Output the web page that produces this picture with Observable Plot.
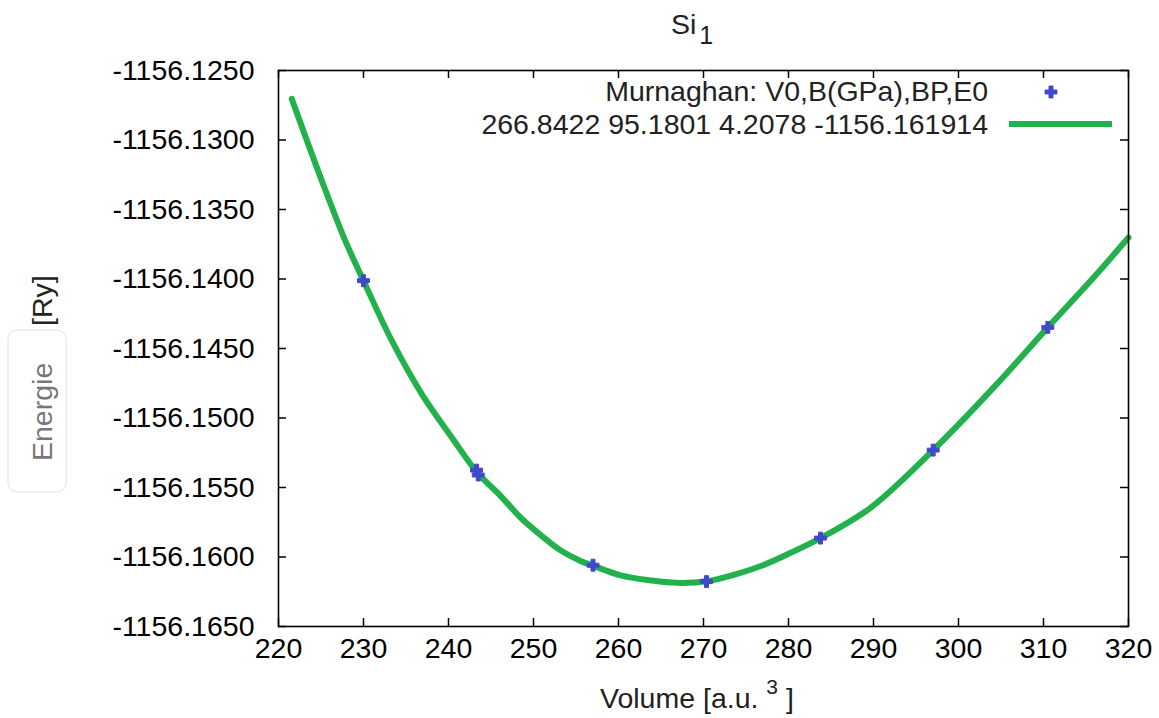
<!DOCTYPE html>
<html><head><meta charset="utf-8">
<script src="https://cdn.jsdelivr.net/npm/d3@7"></script>
<script src="https://cdn.jsdelivr.net/npm/@observablehq/plot@0.6"></script>
<style>
body{margin:0;background:#fff;}
#wrap{position:relative;width:1159px;height:718px;font-family:"Liberation Sans",Arial,sans-serif;}
#wrap svg{position:absolute;left:0;top:0;}
</style></head><body><div id="wrap"></div>
<script>
// Data points (Volume [a.u.^3], Energy [Ry])
const pointVolume = [230.0, 243.3, 243.5, 257.0, 270.35, 283.76, 297.02, 310.51];
const pointEnergy = [-1156.14012, -1156.15375, -1156.15410, -1156.16059, -1156.16177, -1156.15864, -1156.15231, -1156.14348];

// Murnaghan fit curve
const fitVolume = [221.56, 225.09, 227.85, 230.00, 233.33, 236.86, 240.39, 243.38, 246.12, 248.47, 250.82, 253.18, 255.53, 257.09, 260.24, 263.76, 266.82, 270.35, 273.96, 277.09, 280.24, 283.76, 289.65, 297.02, 304.15, 310.51, 315.92, 320.00];
const fitEnergy = [-1156.12704, -1156.13292, -1156.13724, -1156.14012, -1156.14444, -1156.14828, -1156.15140, -1156.15392, -1156.15560, -1156.15716, -1156.15841, -1156.15952, -1156.16028, -1156.16064, -1156.16132, -1156.16168, -1156.16186, -1156.16175, -1156.16121, -1156.16057, -1156.15970, -1156.15864, -1156.15646, -1156.15231, -1156.14780, -1156.14348, -1156.13988, -1156.13702];

const xTicks = [220, 230, 240, 250, 260, 270, 280, 290, 300, 310, 320];
const yTicks = [-1156.125, -1156.130, -1156.135, -1156.140, -1156.145, -1156.150, -1156.155, -1156.160, -1156.165];

const titleMain = "Si";
const titleSub = "1";
const xLabelMain = "Volume [a.u. ";
const xLabelSup = "3";
const xLabelEnd = " ]";
const yLabelA = "Energie";
const yLabelB = "[Ry]";
const legendHeader = "Murnaghan: V0,B(GPa),BP,E0";
const legendFit = "266.8422 95.1801 4.2078 -1156.161914";

const points = pointVolume.map((v, i) => ({v, e: pointEnergy[i]}));
const fit = fitVolume.map((v, i) => ({v, e: fitEnergy[i]}));

const W = 1159, H = 718;
const mL = 278, mR = 31, mT = 70, mB = 92;
const fw = W - mL - mR, fh = H - mT - mB;
const tick = 8;
const blue = "#4048cc", green = "#22b14c";
const fs = 28.5;

const chart = Plot.plot({
  width: W, height: H,
  marginLeft: mL, marginRight: mR, marginTop: mT, marginBottom: mB,
  style: {fontFamily: '"Liberation Sans", Arial, sans-serif', fontSize: fs + "px", background: "white", color: "black"},
  x: {domain: [220, 320]},
  y: {domain: [-1156.165, -1156.125]},
  marks: [
    Plot.tickX(xTicks, {x: d => d, insetTop: fh - tick, stroke: "black", strokeWidth: 1.5}),
    Plot.tickX(xTicks, {x: d => d, insetBottom: fh - tick, stroke: "black", strokeWidth: 1.5}),
    Plot.tickY(yTicks, {y: d => d, insetRight: fw - tick, stroke: "black", strokeWidth: 1.5}),
    Plot.tickY(yTicks, {y: d => d, insetLeft: fw - tick, stroke: "black", strokeWidth: 1.5}),
    Plot.axisX({ticks: xTicks, tickSize: 0, tickPadding: 11, tickFormat: d => String(d), fontSize: fs, label: null}),
    Plot.axisY({ticks: yTicks, tickSize: 0, tickPadding: 24, tickFormat: d => d.toFixed(4), fontSize: fs, label: null}),
    Plot.line(fit, {x: "v", y: "e", stroke: green, strokeWidth: 6, curve: "catmull-rom"}),
    Plot.dot(points, {x: "v", y: "e", symbol: "cross", fill: blue, stroke: blue, strokeWidth: 1, r: 5}),
    Plot.frame({stroke: "black", strokeWidth: 1.6})
  ]
});

const wrap = document.getElementById("wrap");
wrap.appendChild(chart);

// Overlay for title, axis labels and legend
const ov = d3.create("svg").attr("width", W).attr("height", H)
  .attr("font-family", '"Liberation Sans", Arial, sans-serif').attr("font-size", fs);

// y-label box
ov.append("rect").attr("x", 8).attr("y", 330).attr("width", 58).attr("height", 162).attr("rx", 9)
  .attr("fill", "white").attr("stroke", "#ececec").attr("stroke-width", 1.5);

const t = ov.append("text").attr("x", 671).attr("y", 34).attr("fill", "#222");
t.append("tspan").text(titleMain);
t.append("tspan").attr("dx", 3).attr("dy", 10).attr("font-size", 25).text(titleSub);

const xl = ov.append("text").attr("x", 600).attr("y", 708).attr("fill", "#222");
xl.append("tspan").text(xLabelMain);
xl.append("tspan").attr("dy", -14).attr("font-size", 21).text(xLabelSup);
xl.append("tspan").attr("dy", 14).text(xLabelEnd);

ov.append("text").attr("transform", "translate(52,461) rotate(-90)").attr("fill", "#777").text(yLabelA);
ov.append("text").attr("transform", "translate(52,326) rotate(-90)").attr("fill", "#222").text(yLabelB);

ov.append("text").attr("x", 988).attr("y", 101).attr("text-anchor", "end").attr("fill", "#222").text(legendHeader);
ov.append("text").attr("x", 988).attr("y", 134).attr("text-anchor", "end").attr("fill", "#222").text(legendFit);
ov.append("path").attr("transform", "translate(1051,92)").attr("d", d3.symbol(d3.symbolCross, Math.PI * 25)())
  .attr("fill", blue).attr("stroke", blue);
ov.append("line").attr("x1", 1009).attr("x2", 1112).attr("y1", 124).attr("y2", 124)
  .attr("stroke", green).attr("stroke-width", 6);

wrap.appendChild(ov.node());
</script>
</body></html>
